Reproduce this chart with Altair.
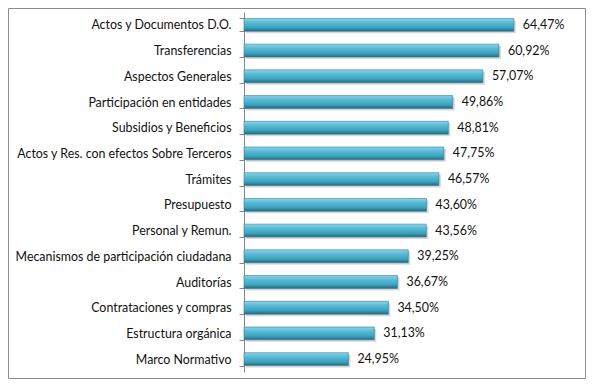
import altair as alt
import pandas as pd

categories = [
    "Actos y Documentos  D.O.",
    "Transferencias",
    "Aspectos Generales",
    "Participación en entidades",
    "Subsidios y Beneficios",
    "Actos y Res.  con efectos Sobre Terceros",
    "Trámites",
    "Presupuesto",
    "Personal y Remun.",
    "Mecanismos de participación ciudadana",
    "Auditorías",
    "Contrataciones y compras",
    "Estructura orgánica",
    "Marco Normativo",
]
values = [64.47, 60.92, 57.07, 49.86, 48.81, 47.75, 46.57, 43.60, 43.56, 39.25, 36.67, 34.50, 31.13, 24.95]
labels = [f"{v:.2f}".replace(".", ",") + "%" for v in values]

df = pd.DataFrame({"cat": categories, "val": values, "lab": labels})

FONT = "Lato"
FS = 12.4
W, H = 293, 360
PAD_L, PAD_T, PAD_R, PAD_B = 236, 4, 49, 7

y_enc = alt.Y(
    "cat:N",
    sort=categories,
    scale=alt.Scale(paddingInner=0.5, paddingOuter=0.25),
    axis=alt.Axis(
        title=None,
        tickBand="extent",
        tickSize=5,
        labelPadding=8,
        labelFont=FONT,
        labelFontSize=FS,
        labelColor="#111111",
        domainColor="#868686",
        tickColor="#868686",
        labelLimit=300,
    ),
)
x_scale = alt.Scale(domain=[0, 70], nice=False)

gradient = alt.Gradient(
    gradient="linear",
    x1=0, y1=0, x2=0, y2=1,
    stops=[
        alt.GradientStop(color="#8fd3e6", offset=0),
        alt.GradientStop(color="#5cbcd6", offset=0.3),
        alt.GradientStop(color="#3da3bf", offset=0.7),
        alt.GradientStop(color="#236a80", offset=1),
    ],
)

base = alt.Chart(df)

shadow = base.mark_bar(color="#c8c8c8", opacity=0.7, yOffset=2, xOffset=2).encode(
    x=alt.X("val:Q", scale=x_scale, axis=None),
    y=y_enc,
)

bars = base.mark_bar(color=gradient, stroke="#2d7d93", strokeWidth=0.6).encode(
    x=alt.X("val:Q", scale=x_scale, axis=None),
    y=y_enc,
)

text = base.mark_text(align="left", dx=9, font=FONT, fontSize=FS, color="#111111").encode(
    x=alt.X("val:Q", scale=x_scale, axis=None),
    y=y_enc,
    text="lab:N",
)

border = alt.Chart(pd.DataFrame({"a": [0]})).mark_rect(
    fill=None, stroke="#8c8c8c", strokeWidth=1
).encode(
    x=alt.value(-PAD_L + 0.5),
    x2=alt.value(W + PAD_R - 0.5),
    y=alt.value(-PAD_T + 0.5),
    y2=alt.value(H + PAD_B - 0.5),
)

chart = alt.layer(border, shadow, bars, text).properties(
    width=W,
    height=H,
    padding={"left": PAD_L, "top": PAD_T, "right": PAD_R, "bottom": PAD_B},
    autosize=alt.AutoSizeParams(type="none"),
    background="white",
).configure_view(stroke=None)

chart.save("out.html", embed_options={"renderer": "svg", "actions": False})
